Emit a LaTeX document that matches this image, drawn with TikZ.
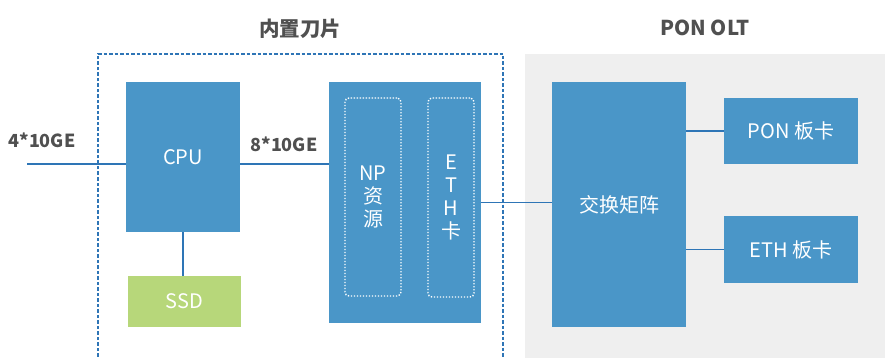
\documentclass[tikz,border=0pt]{standalone}
\usepackage{fontspec}
\setmainfont{Noto Sans CJK SC}
\usetikzlibrary{positioning}
\definecolor{blkblue}{HTML}{4A96C8}
\definecolor{ssdgreen}{HTML}{B7D77A}
\definecolor{wirecol}{HTML}{2E75B6}
\definecolor{oltbg}{HTML}{EFEFEF}
\definecolor{ttlgray}{HTML}{505050}
\tikzset{
  blk/.style={fill=blkblue, text=white, inner sep=0pt,
    font=\fontsize{20}{24}\selectfont, align=center},
  res/.style={draw=white, line width=1.4pt, dash pattern=on 1.3pt off 1.7pt,
    rounded corners=4pt, inner sep=0pt, text=white,
    font=\fontsize{20}{23}\selectfont, align=center},
  wire/.style={draw=wirecol, line width=1.3pt},
  ttl/.style={text=ttlgray, font=\fontsize{20.5}{24}\selectfont\bfseries},
  lbl/.style={text=ttlgray, font=\fontsize{18}{21}\selectfont\bfseries}
}

\begin{document}
\begin{tikzpicture}[x=1pt,y=-1pt]
    \useasboundingbox (0,0) rectangle (885,358);
    % Background
    \fill[oltbg] (525,54) rectangle (885,358);
    \draw[wirecol, line width=1.2pt, dash pattern=on 3.5pt off 2pt]
      (98,362) -- (98,54) -- (503,54) -- (503,362);
    \node[ttl] (blade) at (300,29) {内置刀片};
    \node[ttl] (olt) at (705,28) {PON OLT};
    % Boxes
    \node[blk, minimum width=114pt, minimum height=150pt] (cpu) at (183,157) {CPU};
    \node[blk, fill=ssdgreen, minimum width=113pt, minimum height=51pt] (ssd) at (184.5,301.5) {SSD};
    \node[blk, minimum width=152pt, minimum height=241pt] (np) at (405,202.5) {};
    \node[res, minimum width=56pt, minimum height=198pt] (npres) at (373,197) {NP\\资\\源};
    \node[res, minimum width=46pt, minimum height=199pt] (eth) at (451,197.5) {E\\T\\H\\卡};
    \node[blk, minimum width=134pt, minimum height=245pt] (sw) at (619,204.5) {交换矩阵};
    \node[blk, minimum width=134pt, minimum height=66pt] (pon) at (791,131) {PON 板卡};
    \node[blk, minimum width=134pt, minimum height=67pt] (ethc) at (791,249.5) {ETH 板卡};
    % Wires
    \coordinate (in) at (27,164);
    \node[lbl] (inlbl) at (42,140) {4*10GE};
    \node[lbl] (uplbl) at (284,144) {8*10GE};
    \draw[wire] (in) -- (in -| cpu.west);
    \draw[wire] (in -| cpu.east) -- (in -| np.west);
    \draw[wire] (cpu.south) -- (cpu.south |- ssd.north);
    \draw[wire] (np.east) -- (np.east -| sw.west);
    \draw[wire] (pon.west -| sw.east) -- (pon.west);
    \draw[wire] (ethc.west -| sw.east) -- (ethc.west);
\end{tikzpicture}
\end{document}
